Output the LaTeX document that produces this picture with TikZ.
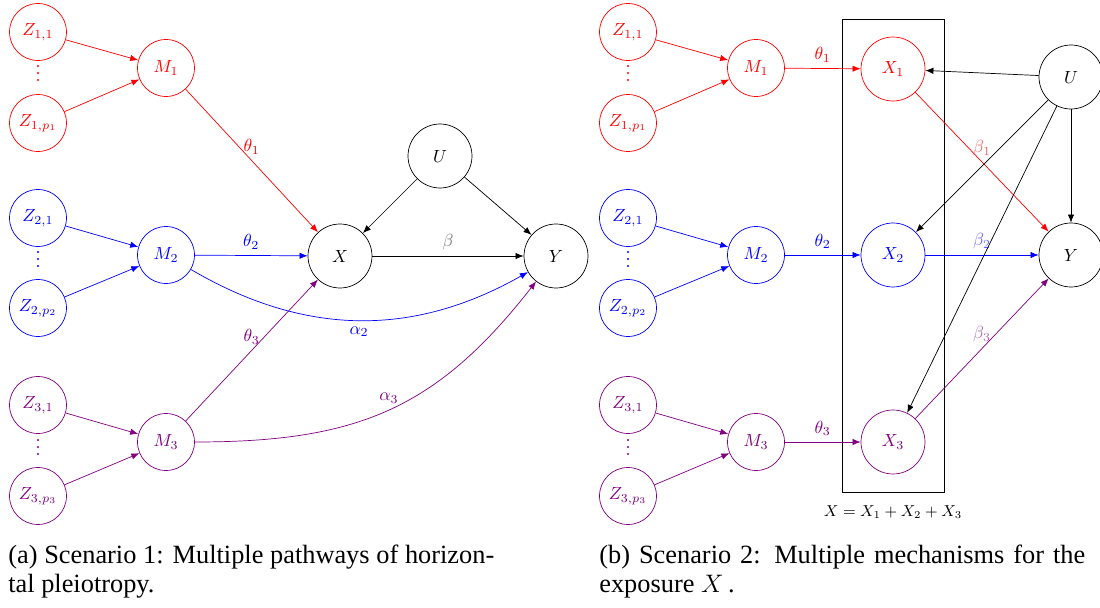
\documentclass[tikz,border=0pt]{standalone}
\usepackage{amsmath}
\usepackage[no-math]{fontspec}
\setmainfont{Liberation Serif}
\usetikzlibrary{arrows.meta}

\tikzset{
  zvar/.style={circle, draw, minimum size=1.14cm, inner sep=0pt},
  bigvar/.style={circle, draw, minimum size=1.28cm, inner sep=0pt},
  arr/.style={-{Latex[length=4.6pt,width=3.6pt]}},
  caption/.style={anchor=base west, inner sep=0pt, text width=9.72cm, align=justify,
    font=\rmfamily\fontsize{15}{17}\selectfont},
}

\begin{document}
\begin{tikzpicture}[x=0.02cm, y=-0.02cm]
    \useasboundingbox (0,0) rectangle (1100,608);
    % left panel: three pathways into X and Y
    \node[zvar, red] (z11) at (38,32) {$Z_{1,1}$};
    \node[zvar, red] (z1p) at (38,123) {$Z_{1,p_1}$};
    \node[zvar, red] (m1) at (166,68) {$M_1$};
    \node[zvar, blue] (z21) at (38,218) {$Z_{2,1}$};
    \node[zvar, blue] (z2p) at (38,308) {$Z_{2,p_2}$};
    \node[zvar, blue] (m2) at (166,255) {$M_2$};
    \node[zvar, violet] (z31) at (38,405) {$Z_{3,1}$};
    \node[zvar, violet] (z3p) at (38,496) {$Z_{3,p_3}$};
    \node[zvar, violet] (m3) at (166,442) {$M_3$};
    \node[bigvar] (x) at (340,256) {$X$};
    \node[bigvar] (u) at (440,156) {$U$};
    \node[bigvar] (y) at (556,256) {$Y$};
    \draw[arr, red] (z11) -- (m1);
    \draw[arr, red] (z1p) -- (m1);
    \draw[arr, blue] (z21) -- (m2);
    \draw[arr, blue] (z2p) -- (m2);
    \draw[arr, violet] (z31) -- (m3);
    \draw[arr, violet] (z3p) -- (m3);
    \draw[arr, red] (m1) -- node[above] {$\theta_1$} (x);
    \draw[arr, blue] (m2) -- node[above] {$\theta_2$} (x);
    \draw[arr, violet] (m3) -- node[above] {$\theta_3$} (x);
    \draw[arr] (x) -- node[above, black!55] {$\beta$} (y);
    \draw[arr] (u) -- (x);
    \draw[arr] (u) -- (y);
    \draw[arr, blue] (m2) to[bend right=30] node[below] {$\alpha_2$} (y);
    \draw[arr, violet] (m3) to[out=0, in=232, looseness=1.1]
        node[above] {$\alpha_3$} (y);
    \node[caption] (capa) at (8,563)
        {(a) Scenario 1: Multiple pathways of horizon-\linebreak tal pleiotropy.};
    % right panel: X split into three mechanisms
    \node[zvar, red] (bz11) at (628,32) {$Z_{1,1}$};
    \node[zvar, red] (bz1p) at (628,123) {$Z_{1,p_1}$};
    \node[zvar, red] (bm1) at (756,68) {$M_1$};
    \node[zvar, blue] (bz21) at (628,218) {$Z_{2,1}$};
    \node[zvar, blue] (bz2p) at (628,308) {$Z_{2,p_2}$};
    \node[zvar, blue] (bm2) at (756,255) {$M_2$};
    \node[zvar, violet] (bz31) at (628,405) {$Z_{3,1}$};
    \node[zvar, violet] (bz3p) at (628,496) {$Z_{3,p_3}$};
    \node[zvar, violet] (bm3) at (756,442) {$M_3$};
    \draw (842,19) rectangle (944,492);
    \node[bigvar, red] (bx1) at (893,69) {$X_1$};
    \node[bigvar, blue] (bx2) at (893,255) {$X_2$};
    \node[bigvar, violet] (bx3) at (893,442) {$X_3$};
    \node[bigvar] (bu) at (1071,77) {$U$};
    \node[bigvar] (by) at (1071,255) {$Y$};
    \node (xsum) at (893,512) {\small $X = X_1 + X_2 + X_3$};
    \draw[arr, red] (bz11) -- (bm1);
    \draw[arr, red] (bz1p) -- (bm1);
    \draw[arr, blue] (bz21) -- (bm2);
    \draw[arr, blue] (bz2p) -- (bm2);
    \draw[arr, violet] (bz31) -- (bm3);
    \draw[arr, violet] (bz3p) -- (bm3);
    \draw[arr, red] (bm1) -- node[above] {$\theta_1$} (bx1);
    \draw[arr, blue] (bm2) -- node[above] {$\theta_2$} (bx2);
    \draw[arr, violet] (bm3) -- node[above] {$\theta_3$} (bx3);
    \draw[arr, red] (bx1) -- node[above, red!60] {$\beta_1$} (by);
    \draw[arr, blue] (bx2) -- node[above, blue!60] {$\beta_2$} (by);
    \draw[arr, violet] (bx3) -- node[above, violet!60] {$\beta_3$} (by);
    \draw[arr] (bu) -- (bx1);
    \draw[arr] (bu) -- (bx2);
    \draw[arr] (bu) -- (bx3);
    \draw[arr] (bu) -- (by);
    \node[caption] (capb) at (599,563)
        {(b) Scenario 2: Multiple mechanisms for the\linebreak exposure $X$\,.};
    % vertical dots between the first and last instrument of each group
    \foreach \cx/\cy/\col in {38/73/red, 38/259/blue, 38/447/violet,
                              628/73/red, 628/259/blue, 628/447/violet}
        \foreach \dy in {-7,0,7}
            \fill[\col] (\cx,\cy+\dy) circle (1.1);
\end{tikzpicture}
\end{document}
